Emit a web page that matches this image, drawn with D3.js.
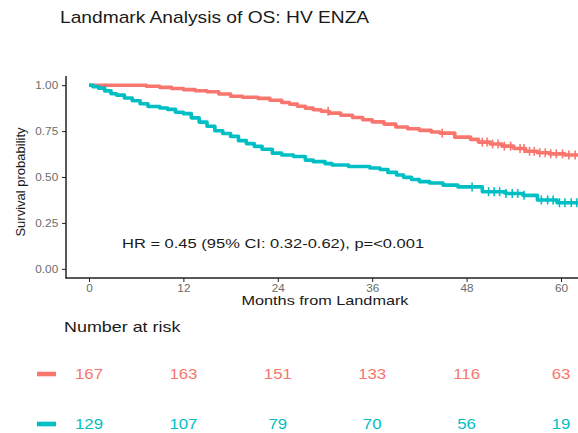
<!DOCTYPE html>
<html>
<head>
<meta charset="utf-8">
<script src="https://cdn.jsdelivr.net/npm/d3@7"></script>
<style>
  html, body { margin: 0; padding: 0; background: #fff; }
  svg { display: block; font-family: "Liberation Sans", Arial, sans-serif; }
</style>
</head>
<body>
<svg id="chart" width="578" height="433"></svg>
<script>
// Kaplan-Meier step data (months, survival probability)
const redTimes = [0, 7.3, 9.0, 10.5, 12.0, 13.5, 15.0, 16.5, 18.0, 19.5, 21.5, 23.0, 24.5, 25.5, 26.5, 27.5, 28.5, 29.5, 30.5, 32.0, 33.5, 34.8, 36.0, 37.5, 39.0, 40.5, 42.0, 43.5, 44.6, 46.5, 48.5, 49.5, 51.0, 52.5, 54.0, 55.5, 57.0, 58.5, 60.5];
const redSurv  = [1.000, 0.994, 0.988, 0.982, 0.976, 0.970, 0.964, 0.952, 0.940, 0.934, 0.928, 0.918, 0.906, 0.897, 0.885, 0.875, 0.866, 0.858, 0.848, 0.836, 0.824, 0.812, 0.800, 0.788, 0.772, 0.763, 0.754, 0.745, 0.739, 0.717, 0.705, 0.690, 0.680, 0.668, 0.655, 0.640, 0.632, 0.626, 0.620];
const redCensor = [30.4, 44.9, 50.0, 50.6, 51.3, 52.0, 52.8, 53.6, 54.8, 55.3, 56.0, 56.6, 57.3, 58.0, 58.7, 59.4, 60.2, 61.0, 61.8];

const tealTimes = [0, 0.5, 1.2, 2.0, 2.8, 3.5, 4.5, 5.5, 6.5, 7.5, 9.0, 10.0, 11.0, 12.0, 13.0, 14.0, 15.0, 16.0, 17.0, 18.0, 19.0, 20.0, 21.0, 22.0, 23.3, 24.5, 26.0, 27.5, 28.5, 30.0, 30.9, 33.0, 35.7, 37.0, 38.0, 39.1, 40.0, 41.0, 42.0, 43.3, 45.0, 46.9, 50.0, 53.0, 55.2, 57.0, 59.5];
const tealSurv  = [1.000, 0.992, 0.984, 0.969, 0.953, 0.946, 0.930, 0.915, 0.899, 0.884, 0.876, 0.868, 0.853, 0.845, 0.822, 0.799, 0.776, 0.752, 0.737, 0.721, 0.698, 0.682, 0.667, 0.651, 0.630, 0.620, 0.612, 0.592, 0.584, 0.573, 0.565, 0.557, 0.549, 0.541, 0.525, 0.511, 0.498, 0.486, 0.475, 0.467, 0.456, 0.446, 0.420, 0.410, 0.400, 0.375, 0.360];
const tealCensor = [48.7, 50.8, 51.5, 52.2, 53.0, 53.8, 54.5, 55.3, 57.5, 58.3, 59.0, 59.8, 60.5, 61.3, 62.0];

const xTicks = [0, 12, 24, 36, 48, 60];
const yTicks = [0, 0.25, 0.5, 0.75, 1.0];
const riskRed  = [167, 163, 151, 133, 116, 63];
const riskTeal = [129, 107, 79, 70, 56, 19];

const titleText = "Landmark Analysis of OS: HV ENZA";
const hrText = "HR = 0.45 (95% CI: 0.32-0.62), p=<0.001";
const xLabel = "Months from Landmark";
const yLabel = "Survival probability";
const riskTitle = "Number at risk";

const colRed = "#F8766D", colTeal = "#00BFC4";
const textCol = "#1a1a1a", tickCol = "#6b6b6b";
const tMax = 62.6;

const svg = d3.select("#chart");

const x = d3.scaleLinear().domain([0, 60]).range([89, 561]);
const y = d3.scaleLinear().domain([-0.05, 1.05]).range([278, 76]);
const xLeft = 66, yBottom = 278;

// text helper: glyphs are set slightly wide, scaled horizontally about the anchor
function label(tx, ty, str, size, opts = {}) {
  const sx = opts.sx || 1.2;
  const rot = opts.rotate ? " rotate(-90)" : "";
  const scale = opts.rotate ? `scale(1,1)` : `scale(${sx},1)`;
  return svg.append("text")
    .attr("transform", `translate(${tx},${ty})${rot} ${scale}`)
    .attr("text-anchor", opts.anchor || "start")
    .attr("font-size", size)
    .attr("fill", opts.fill || textCol)
    .text(str);
}

// title
label(60, 23, titleText, 16, { sx: 1.2 });

// curves
const stepLine = d3.line().x(d => x(d[0])).y(d => y(d[1])).curve(d3.curveStepAfter);
function drawCurve(times, surv, censor, color) {
  const pts = times.map((t, i) => [t, surv[i]]);
  pts.push([tMax, surv[surv.length - 1]]);
  svg.append("path").datum(pts).attr("d", stepLine)
    .attr("fill", "none").attr("stroke", color).attr("stroke-width", 3.6)
    .attr("stroke-linejoin", "round");
  const survAt = t => { let s = surv[0]; times.forEach((tt, i) => { if (tt <= t) s = surv[i]; }); return s; };
  const g = svg.append("g").attr("stroke", color).attr("stroke-width", 1.6);
  censor.forEach(t => {
    const cx = x(t), cy = y(survAt(t));
    g.append("line").attr("x1", cx).attr("x2", cx).attr("y1", cy - 4.5).attr("y2", cy + 4.5);
    g.append("line").attr("x1", cx - 3).attr("x2", cx + 3).attr("y1", cy).attr("y2", cy);
  });
}
drawCurve(redTimes, redSurv, redCensor, colRed);
drawCurve(tealTimes, tealSurv, tealCensor, colTeal);

// axes
const axisCol = "#222";
const xAxis = svg.append("g").attr("transform", `translate(0,${yBottom})`)
  .call(d3.axisBottom(x).tickValues(xTicks).tickSize(4).tickPadding(3).tickFormat(d3.format("d")));
xAxis.select(".domain").remove();
xAxis.selectAll(".tick line").attr("stroke", axisCol).attr("stroke-width", 1);
xAxis.selectAll(".tick text").attr("font-size", 10.5).attr("fill", tickCol)
  .attr("font-family", "Liberation Sans, Arial, sans-serif").attr("transform", "scale(1.12,1)");
svg.append("line").attr("x1", xLeft).attr("x2", 578).attr("y1", yBottom).attr("y2", yBottom)
  .attr("stroke", axisCol).attr("stroke-width", 1.5);

const yAxis = svg.append("g").attr("transform", `translate(${xLeft},0)`)
  .call(d3.axisLeft(y).tickValues(yTicks).tickSize(4).tickPadding(3).tickFormat(d3.format(".2f")));
yAxis.select(".domain").remove();
yAxis.selectAll(".tick line").attr("stroke", axisCol).attr("stroke-width", 1);
yAxis.selectAll(".tick text").attr("font-size", 10.5).attr("fill", tickCol)
  .attr("font-family", "Liberation Sans, Arial, sans-serif").attr("transform", "scale(1.12,1)");
svg.append("line").attr("x1", xLeft).attr("x2", xLeft).attr("y1", 76).attr("y2", yBottom + 0.75)
  .attr("stroke", axisCol).attr("stroke-width", 1.5);

// axis titles
label(325, 305, xLabel, 13, { anchor: "middle", sx: 1.25 });
label(25, 182, yLabel, 13, { anchor: "middle", rotate: true });

// hazard ratio annotation
label(122, 248, hrText, 13, { sx: 1.27 });

// number at risk table
label(64, 332, riskTitle, 14, { sx: 1.28 });
function riskRow(vals, color, yy) {
  svg.append("rect").attr("x", 37).attr("y", yy - 2.3).attr("width", 19).attr("height", 4.6).attr("fill", color);
  vals.forEach((v, i) => label(x(xTicks[i]), yy + 5, v, 14, { anchor: "middle", sx: 1.2, fill: color }));
}
riskRow(riskRed, colRed, 374);
riskRow(riskTeal, colTeal, 424);
</script>
</body>
</html>
